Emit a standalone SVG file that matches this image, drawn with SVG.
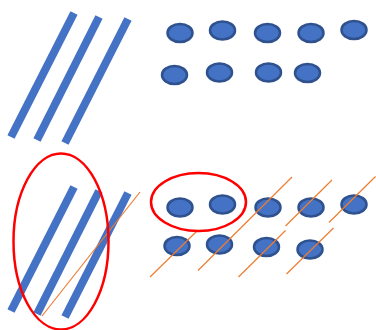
<svg xmlns="http://www.w3.org/2000/svg" width="376" height="330" viewBox="0 0 376 330">
<style>
.bar{stroke:#4472C4;stroke-width:8;stroke-linecap:butt;fill:none}
.dot{fill:#4472C4;stroke:#2F528F;stroke-width:2.5}
.ring{fill:none;stroke:#FF0000;stroke-width:2.5}
.cut{stroke:#ED7D31;stroke-width:1.2;fill:none}
</style>
<rect width="376" height="330" fill="#fff"/>
<g id="bars-top">
<line class="bar" x1="74" y1="13" x2="11" y2="137"/>
<line class="bar" x1="99" y1="17" x2="37" y2="140"/>
<line class="bar" x1="128" y1="19" x2="65" y2="143"/>
</g>
<g id="dots-top">
<ellipse class="dot" cx="180" cy="33" rx="12.5" ry="9"/>
<ellipse class="dot" cx="222.5" cy="30.5" rx="12.5" ry="9"/>
<ellipse class="dot" cx="267.5" cy="33" rx="12.5" ry="9"/>
<ellipse class="dot" cx="311" cy="33" rx="12.5" ry="9"/>
<ellipse class="dot" cx="354" cy="30" rx="12.5" ry="9"/>
<ellipse class="dot" cx="174.5" cy="75" rx="12.5" ry="9"/>
<ellipse class="dot" cx="219.5" cy="72.5" rx="12.5" ry="9"/>
<ellipse class="dot" cx="268.5" cy="72.5" rx="12.5" ry="9"/>
<ellipse class="dot" cx="307.5" cy="73" rx="12.5" ry="9"/>
</g>
<g id="bars-bottom">
<line class="bar" x1="74" y1="187" x2="11" y2="311"/>
<line class="bar" x1="99" y1="191" x2="37" y2="314"/>
<line class="bar" x1="128" y1="193" x2="65" y2="317"/>
</g>
<g id="dots-bottom">
<ellipse class="dot" cx="180" cy="207.5" rx="12.5" ry="9"/>
<ellipse class="dot" cx="222.5" cy="204.5" rx="12.5" ry="9"/>
<ellipse class="dot" cx="268" cy="207.5" rx="12.5" ry="9"/>
<ellipse class="dot" cx="311" cy="207.5" rx="12.5" ry="9"/>
<ellipse class="dot" cx="354" cy="204.5" rx="12.5" ry="9"/>
<ellipse class="dot" cx="177" cy="246" rx="12.5" ry="9"/>
<ellipse class="dot" cx="219.5" cy="244.5" rx="12.5" ry="9"/>
<ellipse class="dot" cx="266.5" cy="247" rx="12.5" ry="9"/>
<ellipse class="dot" cx="310" cy="249.5" rx="12.5" ry="9"/>
</g>
<g id="connectors">
<line class="cut" x1="42" y1="316" x2="140" y2="192"/>
<line class="cut" x1="150" y1="277" x2="197" y2="231"/>
<line class="cut" x1="198" y1="270.5" x2="292" y2="177"/>
<line class="cut" x1="285.5" y1="226" x2="332" y2="180"/>
<line class="cut" x1="329" y1="222.5" x2="375.5" y2="176.5"/>
<line class="cut" x1="238.5" y1="277" x2="285.5" y2="230.5"/>
<line class="cut" x1="286.5" y1="274" x2="333.5" y2="228"/>
</g>
<g id="ring-bars">
<ellipse class="ring" cx="61" cy="241.5" rx="47.5" ry="88"/>
</g>
<g id="ring-dots">
<ellipse class="ring" cx="198.5" cy="202" rx="47.5" ry="29"/>
</g>
</svg>
